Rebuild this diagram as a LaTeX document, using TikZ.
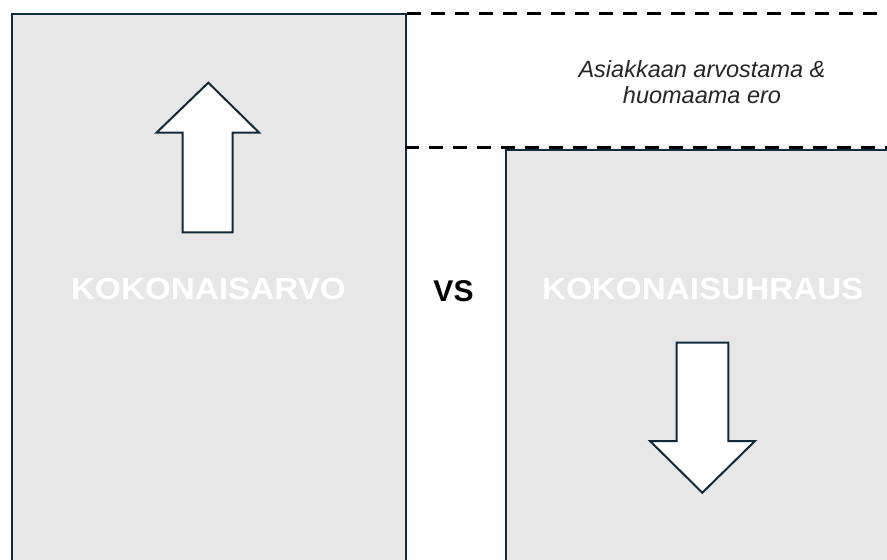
\documentclass[tikz,border=0pt]{standalone}
\usepackage{fontspec}
\setmainfont{Liberation Sans}
\definecolor{edgeblue}{HTML}{0F2A3B}
\definecolor{panelgray}{HTML}{E7E7E7}
\newcommand{\widen}[1]{\scalebox{1.09}[1]{#1}}
\begin{document}
\begin{tikzpicture}[x=1pt,y=-1pt,
  panelbox/.style={draw=edgeblue, fill=panelgray, line width=2pt, inner sep=0pt, anchor=north west},
  bigarrow/.style={draw=edgeblue, fill=white, line width=2pt, line join=miter},
  divider/.style={draw=black, line width=3pt, dash pattern=on 14pt off 10pt},
  titletext/.style={font=\fontsize{30.5}{36}\selectfont\bfseries, text=white, inner sep=0pt, anchor=base},
  vstext/.style={font=\fontsize{30}{36}\selectfont\bfseries, text=black, inner sep=0pt, anchor=base},
  notetext/.style={font=\fontsize{23.5}{26}\selectfont\itshape, text=black!85, inner sep=0pt, anchor=base}]
\useasboundingbox (0,0) rectangle (887,560);
\clip (0,0) rectangle (887,560);
\fill[white] (0,0) rectangle (887,560);
\node[panelbox, minimum width=394.5pt, minimum height=570pt] (valuebox) at (10.5,13) {};
\node[panelbox, minimum width=400pt, minimum height=430pt] (costbox) at (505,149) {};
\coordinate (topright) at (887,13);
\coordinate (midleft) at (405,147.5);
\coordinate (midright) at (887,147.5);
\draw[divider] (valuebox.north east) -- (topright);
\draw[divider] (midleft) -- (midright);
\draw[bigarrow] (208.3,82.7) -- (259,132.5) -- (232.7,132.5) -- (232.7,232.3) -- (182.7,232.3) -- (182.7,132.5) -- (156.7,132.5) -- cycle;
\draw[bigarrow] (702.3,492.7) -- (755,441) -- (728.3,441) -- (728.3,342.7) -- (676.7,342.7) -- (676.7,441) -- (650,441) -- cycle;
\node[titletext] (valuetitle) at (208.5,299.3) {\widen{KOKONAISARVO}};
\node[vstext] (versus) at (453.5,301.5) {VS};
\node[titletext] (costtitle) at (702.8,299.3) {\widen{KOKONAISUHRAUS}};
\node[notetext] (noteone) at (702,77.3) {Asiakkaan arvostama \&};
\node[notetext] (notetwo) at (702,103.3) {huomaama ero};
\end{tikzpicture}
\end{document}
